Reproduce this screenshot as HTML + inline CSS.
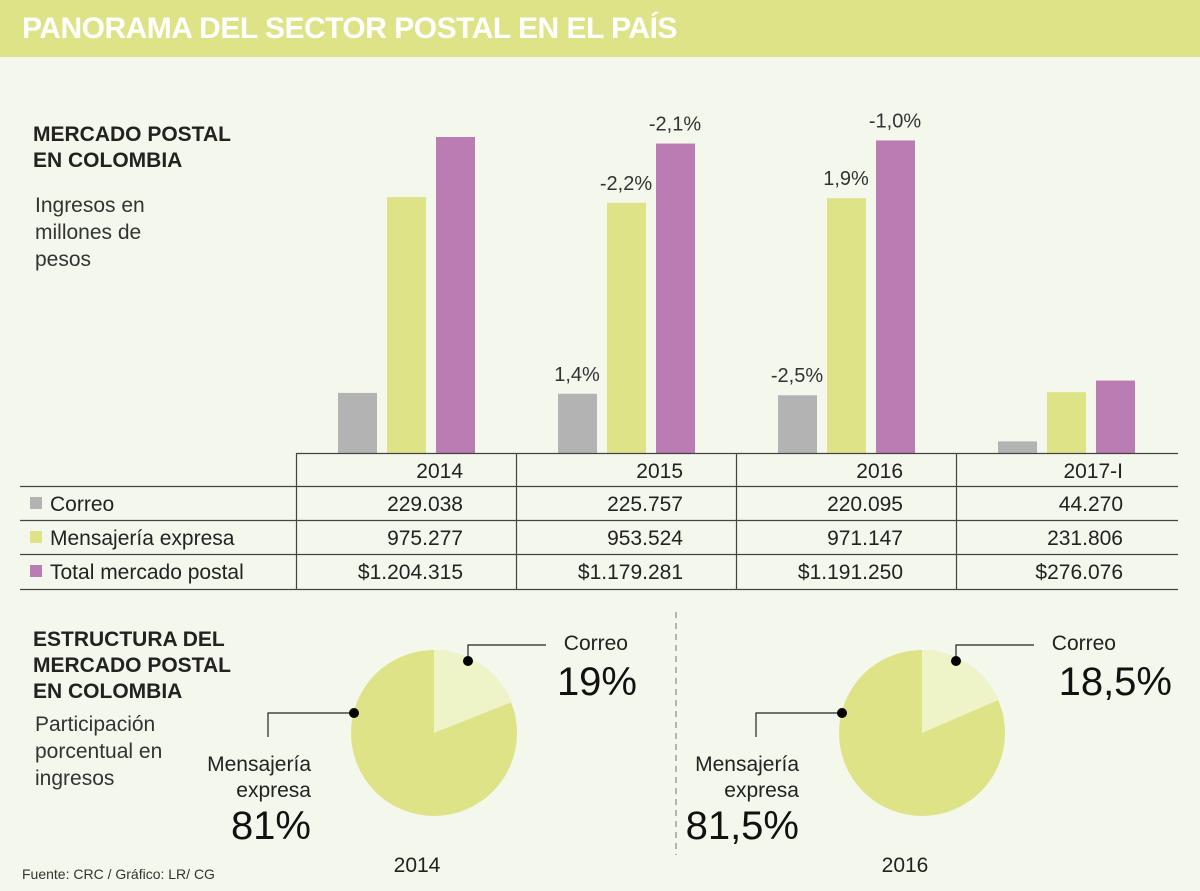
<!DOCTYPE html>
<html><head><meta charset="utf-8"><style>
body{margin:0;width:1200px;height:891px;background:#f4f7ec;font-family:"Liberation Sans",sans-serif;overflow:hidden;position:relative}
.t{position:absolute;color:#222;white-space:nowrap}
</style></head><body>
<div style="position:absolute;left:0;top:0;width:1200px;height:57px;background:#dde386"></div>
<div class="t" style="left:22px;top:12px;font-size:30px;font-weight:bold;color:#fff;letter-spacing:-0.5px">PANORAMA DEL SECTOR POSTAL EN EL PAÍS</div>
<div class="t" style="left:33px;top:122px;font-size:21px;font-weight:bold;line-height:26px">MERCADO POSTAL<br>EN COLOMBIA</div>
<div class="t" style="left:35px;top:192px;font-size:21px;line-height:27px;color:#333">Ingresos en<br>millones de<br>pesos</div>
<div class="t" style="left:33px;top:627px;font-size:21px;font-weight:bold;line-height:26px">ESTRUCTURA DEL<br>MERCADO POSTAL<br>EN COLOMBIA</div>
<div class="t" style="left:35px;top:711px;font-size:21px;line-height:27px;color:#333">Participación<br>porcentual en<br>ingresos</div>
<div class="t" style="left:22px;top:866px;font-size:14px;color:#333">Fuente: CRC / Gráfico: LR/ CG</div>
<svg id="c" width="1200" height="891" style="position:absolute;left:0;top:0"></svg>
<script>
const categories=["2014","2015","2016","2017-I"];
const correo=[229038,225757,220095,44270];
const mensajeria=[975277,953524,971147,231806];
const total=[1204315,1179281,1191250,276076];
const correoLabels=["229.038","225.757","220.095","44.270"];
const mensLabels=["975.277","953.524","971.147","231.806"];
const totalLabels=["$1.204.315","$1.179.281","$1.191.250","$276.076"];
const growthCorreo=[null,"1,4%","-2,5%",null];
const growthMens=[null,"-2,2%","1,9%",null];
const growthTotal=[null,"-2,1%","-1,0%",null];
const pieYears=["2014","2016"];
const pieCorreo=[19,18.5];
const pieMens=[81,81.5];
const pieCorreoLabels=["19%","18,5%"];
const pieMensLabels=["81%","81,5%"];

const svg=document.getElementById('c');const NS='http://www.w3.org/2000/svg';
function mk(t,a,txt){const e=document.createElementNS(NS,t);for(const k in a)e.setAttribute(k,a[k]);if(txt!=null)e.textContent=txt;svg.appendChild(e);return e;}
const base=453,k=316/1204315;
const y=v=>base-v*k;
const gx=i=>338+i*220;
const cols=["#b3b3b3","#dde386","#bb7bb3"];
const series=[correo,mensajeria,total];const growth=[growthCorreo,growthMens,growthTotal];
const sn=["correo","mensajeria","total"];
categories.forEach((c,i)=>{series.forEach((s,j)=>{
 const x=gx(i)+j*49;
 const r=mk('rect',{x:x,y:y(s[i]),width:39,height:s[i]*k,fill:cols[j]});
 
 
 if(growth[j][i]){const t=mk('text',{x:x+19,y:y(s[i])-13,'text-anchor':'middle','font-size':20,fill:'#333'},growth[j][i]);
 
 }
});});
// table
const L='#444';
mk('line',{x1:296,y1:453.5,x2:1178,y2:453.5,stroke:L,'stroke-width':1.2});
[486,520,554,589].forEach(v=>mk('line',{x1:20,y1:v+.5,x2:1178,y2:v+.5,stroke:L,'stroke-width':1.2}));
[296,516,736,956].forEach(v=>mk('line',{x1:v+.5,y1:453,x2:v+.5,y2:589,stroke:L,'stroke-width':1.2}));
const rows=[["Correo",correoLabels],["Mensajería expresa",mensLabels],["Total mercado postal",totalLabels]];
categories.forEach((c,i)=>{const t=mk('text',{x:463+i*220,y:478,'text-anchor':'end','font-size':21,fill:'#222'},c);
 
 });
rows.forEach((r,j)=>{const yy=511+j*34;
 mk('rect',{x:30,y:yy-14,width:12,height:12,fill:cols[j]});
 const t=mk('text',{x:50,y:yy,'font-size':21,fill:'#222'},r[0]);
 
 
 r[1].forEach((v,i)=>{const tv=mk('text',{x:463+i*220,y:yy,'text-anchor':'end','font-size':21,fill:'#222'},v);
 
 });
});
// divider
mk('line',{x1:676,y1:612,x2:676,y2:855,stroke:'#888','stroke-dasharray':'6,5','stroke-width':1.2});
// pies
const pcx=[434,922],cy=733,R=83;
pieYears.forEach((yr,i)=>{const cx=pcx[i];
 mk('circle',{cx:cx,cy:cy,r:R,fill:'#dde386'});
 const a=pieCorreo[i]/100*2*Math.PI;
 const ex=cx+R*Math.sin(a),ey=cy-R*Math.cos(a);
 const p=mk('path',{d:`M${cx},${cy}L${cx},${cy-R}A${R},${R} 0 0 1 ${ex},${ey}Z`,fill:'#eef3c8'});
 
 
 const dx=cx+34,dy=661;
 mk('polyline',{points:`${dx},${dy} ${dx},${645} ${cx+112},645`,fill:'none',stroke:'#222','stroke-width':1.2});
 mk('circle',{cx:dx,cy:dy,r:5,fill:'#000'});
 mk('polyline',{points:`${cx-80},713 ${cx-166},713 ${cx-166},737`,fill:'none',stroke:'#222','stroke-width':1.2});
 mk('circle',{cx:cx-80,cy:713,r:5,fill:'#000'});
 mk('text',{x:cx+194,y:650,'text-anchor':'end','font-size':21,fill:'#222'},'Correo');
 const pc=mk('text',{x:i?cx+250:cx+203,y:695,'text-anchor':'end','font-size':40,fill:'#111'},pieCorreoLabels[i]);
 
 
 mk('text',{x:cx-123,y:771,'text-anchor':'end','font-size':21,fill:'#222'},'Mensajería');
 mk('text',{x:cx-123,y:797,'text-anchor':'end','font-size':21,fill:'#222'},'expresa');
 const pm=mk('text',{x:cx-123,y:839,'text-anchor':'end','font-size':40,fill:'#111'},pieMensLabels[i]);
 
 
 mk('text',{x:cx-17,y:872,'text-anchor':'middle','font-size':21,fill:'#222'},yr);
});
</script>
</body></html>
